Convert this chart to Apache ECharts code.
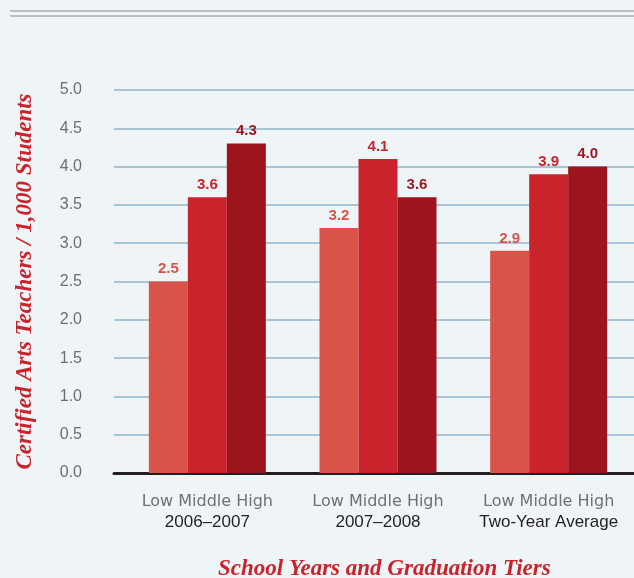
<!DOCTYPE html>
<html>
<head>
<meta charset="utf-8">
<script src="https://cdn.jsdelivr.net/npm/echarts@6/dist/echarts.min.js"></script>
<style>
  html, body { margin: 0; padding: 0; background: #eff4f7; }
  #main { width: 634px; height: 578px; }
</style>
</head>
<body>
<div id="main"></div>
<script>
const periods = ['2006–2007', '2007–2008', 'Two-Year Average']
const tierLabel = 'Low Middle High'
const lowValues = [2.5, 3.2, 2.9]
const middleValues = [3.6, 4.1, 3.9]
const highValues = [4.3, 3.6, 4.0]
const yTicks = {min: 0, max: 5, interval: 0.5}

const colors = {low: '#d9534b', middle: '#c9232c', high: '#9c151d'}
const sans = 'Liberation Sans'
const serif = 'Liberation Serif'

let myChart = echarts.init(document.getElementById('main'))

const barSeries = (name, data, color) => ({
    name: name,
    type: 'bar',
    xAxisIndex: 1,
    yAxisIndex: 1,
    data: data,
    barWidth: 39,
    barGap: '0%',
    itemStyle: {color: color},
    label: {
        show: true,
        position: 'top',
        distance: 5,
        color: color,
        fontFamily: sans,
        fontWeight: 'bold',
        fontSize: 15,
        formatter: p => p.value.toFixed(1)
    }
})

const option = {
    backgroundColor: '#eff4f7',
    animation: false,
    graphic: [
        {type: 'rect', shape: {x: 10, y: 10, width: 624, height: 2}, style: {fill: '#bdbec3'}},
        {type: 'rect', shape: {x: 10, y: 15, width: 624, height: 2}, style: {fill: '#bdbec3'}}
    ],
    title: {
        text: 'School Years and Graduation Tiers',
        left: 213,
        top: 553,
        textStyle: {
            fontFamily: serif,
            fontStyle: 'italic',
            fontWeight: 'bold',
            fontSize: 23,
            color: '#c9232c'
        }
    },
    grid: [
        {left: 114, right: 0, top: 90, bottom: 105},
        {left: 122, right: 0, top: 90, bottom: 105}
    ],
    xAxis: [
        {
            type: 'category',
            gridIndex: 0,
            data: periods,
            axisLine: {lineStyle: {color: '#231f20', width: 3}},
            axisTick: {show: false},
            axisLabel: {show: false}
        },
        {
            type: 'category',
            gridIndex: 1,
            data: periods,
            axisLine: {show: false},
            axisTick: {show: false},
            axisLabel: {
                margin: 18,
                formatter: v => '{a|' + tierLabel + '}\n{b|' + v + '}',
                rich: {
                    a: {fontFamily: 'DejaVu Sans', fontSize: 16, color: '#707174', lineHeight: 21},
                    b: {fontFamily: sans, fontSize: 17, color: '#231f20', lineHeight: 21}
                }
            }
        }
    ],
    yAxis: [
        {
            type: 'value',
            gridIndex: 0,
            min: yTicks.min,
            max: yTicks.max,
            interval: yTicks.interval,
            name: 'Certified Arts Teachers / 1,000 Students',
            nameLocation: 'middle',
            nameGap: 77,
            nameTextStyle: {
                fontFamily: serif,
                fontStyle: 'italic',
                fontWeight: 'bold',
                fontSize: 23,
                color: '#c9232c'
            },
            axisLine: {show: false},
            axisTick: {show: false},
            axisLabel: {
                margin: 32,
                fontFamily: sans,
                fontSize: 16,
                color: '#6d6e71',
                formatter: v => v.toFixed(1)
            },
            splitLine: {lineStyle: {color: '#a9c5d5', width: 2}}
        },
        {
            type: 'value',
            gridIndex: 1,
            min: yTicks.min,
            max: yTicks.max,
            interval: yTicks.interval,
            show: false,
            splitLine: {show: false}
        }
    ],
    series: [
        barSeries('Low', lowValues, colors.low),
        barSeries('Middle', middleValues, colors.middle),
        barSeries('High', highValues, colors.high)
    ]
}

myChart.setOption(option)
</script>
</body>
</html>
